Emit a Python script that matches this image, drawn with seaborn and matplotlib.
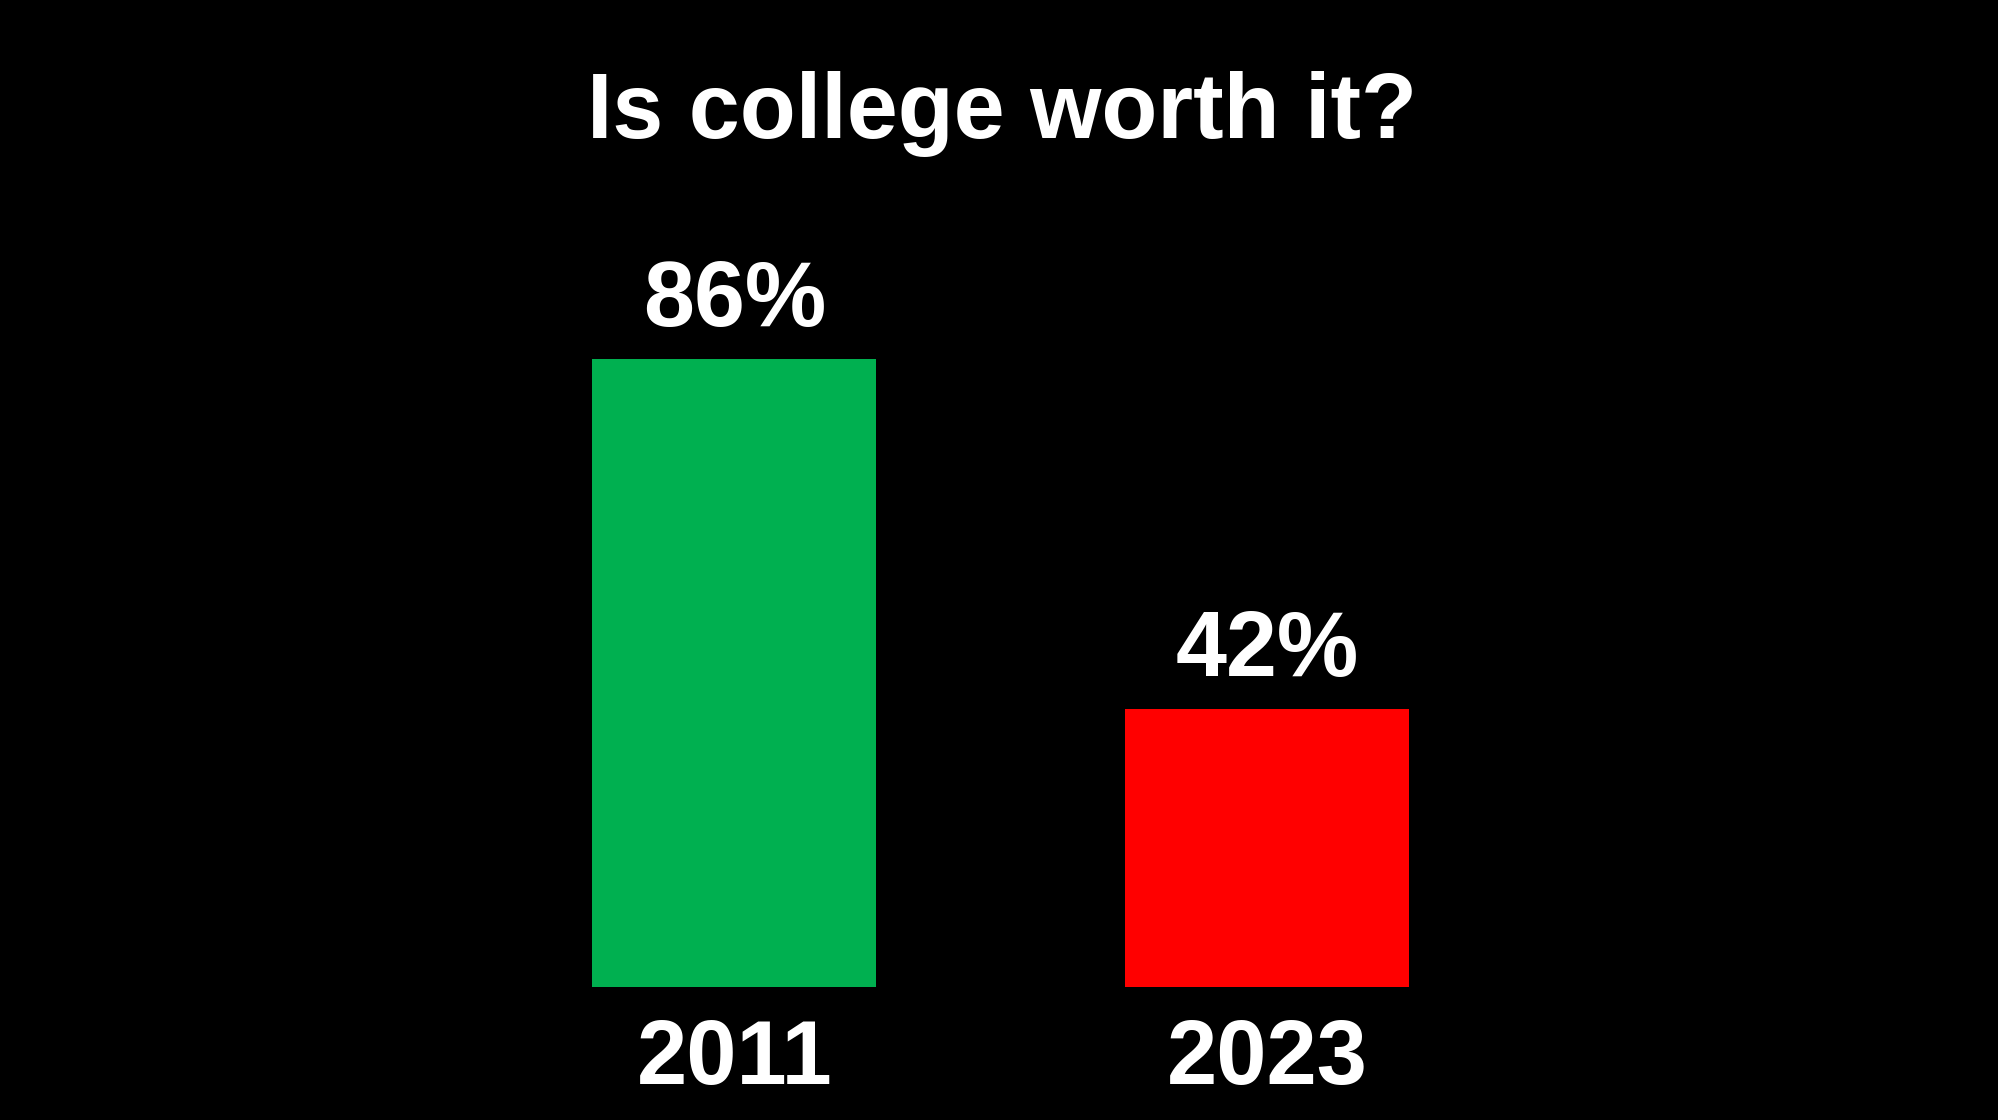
import matplotlib
matplotlib.use("Agg")
import matplotlib.pyplot as plt
import seaborn as sns
import pandas as pd

# Data
years = ['2011', '2023']
share_worth_it = [86, 42]
bar_colors = ['#00B050', '#FF0000']
title = 'Is college worth it?'

sns.set_theme(style='white')
plt.rcParams['font.family'] = ['Liberation Sans', 'DejaVu Sans']

df = pd.DataFrame({'Year': years, 'Share': share_worth_it})

fig = plt.figure(figsize=(19.98, 11.2), dpi=100, facecolor='black')
ax = fig.add_axes([0.2, 0.11875, 0.6, 0.7027])
ax.set_facecolor('black')

sns.barplot(data=df, x='Year', y='Share', hue='Year', palette=bar_colors,
            legend=False, width=0.533, saturation=1, linewidth=0, ax=ax)

# the original chart's bars are not drawn from zero
ax.set_ylim(7, 106)
ax.set_xlim(-0.628, 1.621)

for container in ax.containers:
    ax.bar_label(container, fmt='{:.0f}%', padding=10, color='white',
                 fontsize=66, fontweight='bold')

ax.set_xlabel('')
ax.set_ylabel('')
ax.set_yticks([])
ax.tick_params(axis='x', length=0, pad=22, labelsize=65, labelcolor='white')
for lbl in ax.get_xticklabels():
    lbl.set_fontweight('bold')
sns.despine(ax=ax, left=True, bottom=True)

fig.text(0.5015, 0.8768, title, ha='center', va='baseline', color='white',
         fontsize=66, fontweight='bold')

fig.savefig('out.png', dpi=100, facecolor='black')
